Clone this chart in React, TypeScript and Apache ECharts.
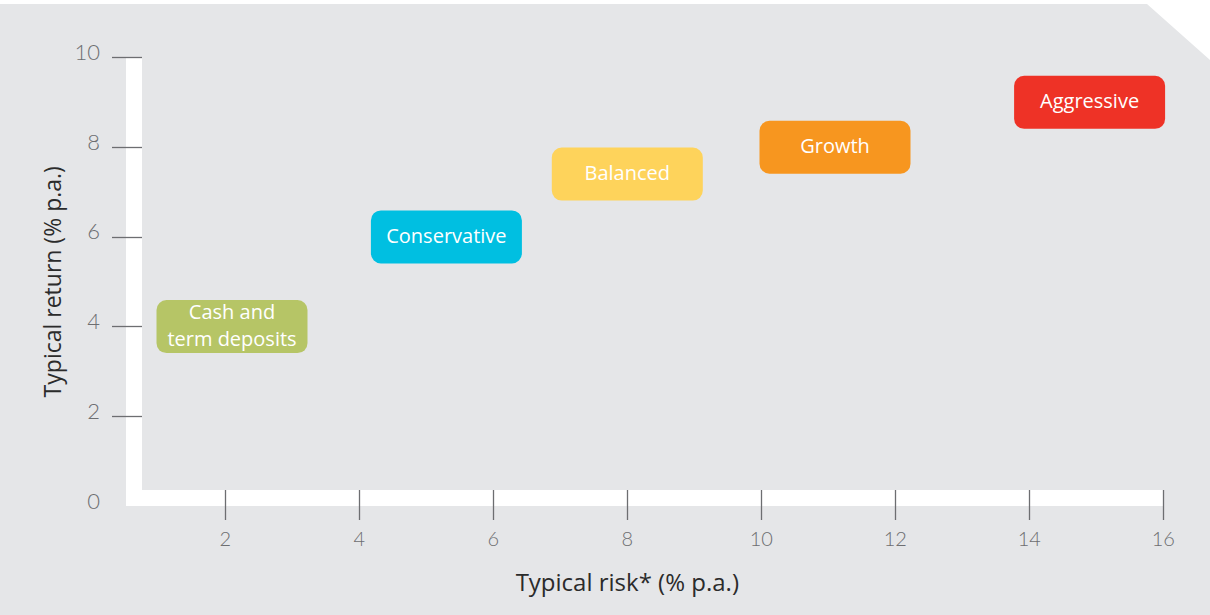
import React, { useEffect, useRef } from "react";
import * as echarts from "echarts";

// Investment options: typical risk vs typical return (% p.a.)
const categories = ["Cash and\nterm deposits", "Conservative", "Balanced", "Growth", "Aggressive"];
const riskValues = [2.1, 5.3, 8.0, 11.1, 14.9];
const returnValues = [4.0, 6.0, 7.4, 8.0, 9.0];
const boxColors = ["#b6c566", "#00bfe1", "#fed35b", "#f7961f", "#ee3226"];

const xTickValues = [2, 4, 6, 8, 10, 12, 14, 16];
const yTickValues = [2, 4, 6, 8, 10];
const yLabelValues = [0, 2, 4, 6, 8, 10];

const TICK_FONT = "Lato, 'Open Sans', sans-serif";
const TEXT_FONT = "'Open Sans', Lato, sans-serif";
const TICK_GREY = "#6d6e71";

export default function App() {
  const ref = useRef<HTMLDivElement>(null);

  useEffect(() => {
    if (!ref.current) return;
    const chart = echarts.init(ref.current, undefined, { renderer: "svg" });

    const data = categories.map((name, i) => ({
      name,
      value: [riskValues[i], returnValues[i]],
      color: boxColors[i],
    }));

    chart.setOption({
      animation: false,
      backgroundColor: "#ffffff",
      textStyle: { fontFamily: TICK_FONT },
      grid: { left: 91.3, right: 46.7, top: 57.5, bottom: 109 },
      graphic: [
        {
          type: "polygon",
          z: -10,
          silent: true,
          shape: {
            points: [
              [0, 4],
              [1147, 4],
              [1210, 60],
              [1210, 615],
              [0, 615],
            ],
          },
          style: { fill: "#e5e6e8" },
        },
        // white L-shaped axis bands
        {
          type: "rect",
          z: -5,
          silent: true,
          shape: { x: 126, y: 58, width: 16, height: 448 },
          style: { fill: "#ffffff" },
        },
        {
          type: "rect",
          z: -5,
          silent: true,
          shape: { x: 126, y: 490, width: 1037.5, height: 16 },
          style: { fill: "#ffffff" },
        },
      ],
      xAxis: {
        type: "value",
        min: 0,
        max: 16,
        interval: 2,
        offset: -16,
        z: 5,
        splitLine: { show: false },
        axisLine: { show: false },
        axisTick: {
          show: true,
          inside: false,
          length: 30,
          customValues: xTickValues,
          lineStyle: { color: TICK_GREY, width: 1.3 },
        },
        axisLabel: {
          customValues: xTickValues,
          margin: 38,
          fontSize: 20,
          fontWeight: 300,
          color: TICK_GREY,
          fontFamily: TICK_FONT,
        },
        name: "Typical risk* (% p.a.)",
        nameLocation: "middle",
        nameGap: 79,
        nameTextStyle: { fontSize: 24, fontWeight: 400, color: "#2b2b2b", fontFamily: TEXT_FONT },
      },
      yAxis: {
        type: "value",
        min: 0,
        max: 10,
        interval: 2,
        offset: -50.7,
        z: 5,
        splitLine: { show: false },
        axisLine: { show: false },
        axisTick: {
          show: true,
          inside: false,
          length: 30,
          customValues: yTickValues,
          lineStyle: { color: TICK_GREY, width: 1.3 },
        },
        axisLabel: {
          customValues: yLabelValues,
          margin: 42,
          fontSize: 22,
          fontWeight: 300,
          color: TICK_GREY,
          fontFamily: TICK_FONT,
          verticalAlign: "bottom",
          lineHeight: 12,
        },
        name: "Typical return (% p.a.)",
        nameLocation: "middle",
        nameGap: 74,
        nameTextStyle: { fontSize: 23, fontWeight: 400, color: "#2b2b2b", fontFamily: TEXT_FONT },
      },
      series: [
        {
          type: "custom",
          z: 10,
          data,
          renderItem: (params: any, api: any) => {
            const c = api.coord([api.value(0), api.value(1)]);
            const item = data[params.dataIndex];
            const w = 151;
            const h = 53;
            return {
              type: "group",
              children: [
                {
                  type: "rect",
                  shape: { x: c[0] - w / 2, y: c[1] - h / 2, width: w, height: h, r: 10 },
                  style: { fill: item.color },
                },
                {
                  type: "text",
                  style: {
                    text: item.name,
                    x: c[0],
                    y: c[1] - 1.5,
                    align: "center",
                    verticalAlign: "middle",
                    fill: "#ffffff",
                    fontSize: 20,
                    fontWeight: 500,
                    fontFamily: TEXT_FONT,
                    lineHeight: 27,
                  },
                },
              ],
            };
          },
        },
      ],
    });

    return () => chart.dispose();
  }, []);

  return (
    <div
      ref={ref}
      style={{ position: "fixed", left: 0, top: 0, width: 1210, height: 615 }}
    />
  );
}
